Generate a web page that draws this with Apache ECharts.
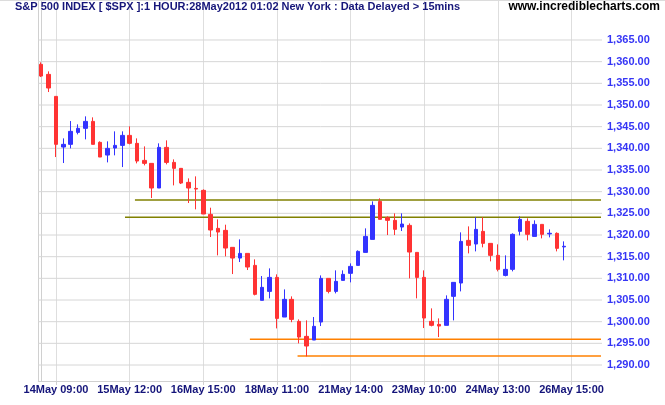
<!DOCTYPE html>
<html>
<head>
<meta charset="utf-8">
<script src="https://cdn.jsdelivr.net/npm/echarts@6/dist/echarts.min.js"></script>
<style>
  html, body { margin: 0; padding: 0; background: #fff; }
  #wrap { position: relative; width: 665px; height: 405px; }
  #chart { width: 665px; height: 405px; }
  #topline { position: absolute; left: 0; top: 0; width: 665px; height: 1px; background: #dcdcdc; }
</style>
</head>
<body>
<div id="wrap"><div id="chart"></div><div id="topline"></div></div>
<script>
// ---- data (hourly candles, index = bar number) ----
const opens  = [1359.38,1357.07,1351.99,1340.30,1340.92,1343.68,1344.61,1346.22,1341.38,1338.45,
                1340.07,1340.68,1342.99,1341.15,1337.22,1336.53,1330.84,1340.22,1336.76,1335.38,
                1332.15,1330.75,1330.30,1324.76,1321.53,1321.07,1317.15,1314.68,1315.76,1312.99,
                1304.92,1306.99,1310.22,1301.07,1305.15,1300.07,1296.61,1295.76,1299.92,1309.99,
                1306.99,1309.53,1311.15,1312.99,1315.99,1318.99,1327.76,1323.99,1323.38,1321.84,
                1322.22,1315.99,1310.22,1300.07,1299.38,1299.15,1305.84,1308.92,1318.76,1317.92,
                1320.84,1318.07,1315.30,1310.68,1312.07,1320.84,1323.15,1319.68,1322.45,1320.25,
                1320.38,1317.25];
const closes = [1356.68,1353.92,1340.92,1340.92,1343.92,1344.61,1346.22,1340.92,1337.99,1339.99,
                1340.68,1342.99,1341.15,1337.07,1336.53,1330.84,1340.22,1336.76,1335.38,1331.99,
                1330.84,1330.60,1324.84,1321.15,1320.68,1316.99,1314.68,1315.76,1312.61,1306.30,
                1307.92,1310.22,1300.76,1305.15,1300.53,1296.45,1294.38,1298.92,1309.99,1306.99,
                1309.30,1310.92,1312.76,1316.22,1319.68,1326.84,1323.61,1323.38,1321.30,1322.53,
                1316.07,1310.22,1300.84,1299.15,1298.99,1305.15,1309.07,1318.53,1317.61,1321.30,
                1318.07,1315.30,1312.07,1312.07,1320.15,1323.61,1320.15,1322.45,1320.15,1320.40,
                1316.92,1317.40];
const lows   = [1356.45,1352.99,1337.99,1336.61,1339.99,1343.22,1342.07,1340.92,1337.99,1336.76,
                1338.38,1335.68,1340.92,1336.53,1336.07,1328.53,1330.84,1336.30,1331.45,1331.76,
                1327.38,1325.92,1324.84,1319.53,1315.30,1315.07,1310.99,1313.76,1311.92,1306.07,
                1304.92,1305.38,1298.45,1301.07,1299.88,1294.99,1291.99,1295.76,1298.99,1306.53,
                1306.53,1309.53,1309.07,1312.99,1315.99,1318.99,1323.61,1319.99,1319.99,1320.92,
                1309.99,1305.38,1298.53,1298.92,1296.45,1299.15,1300.30,1306.99,1315.76,1316.22,
                1317.15,1313.92,1311.61,1310.45,1311.61,1319.92,1318.76,1319.68,1319.22,1319.45,
                1316.22,1314.15];
const highs  = [1359.84,1357.76,1351.99,1342.30,1346.30,1345.53,1347.38,1347.15,1341.61,1341.61,
                1343.92,1343.92,1345.07,1342.30,1340.45,1336.53,1341.15,1341.84,1337.45,1335.38,
                1333.07,1333.53,1330.53,1326.30,1323.61,1322.38,1317.15,1318.99,1315.76,1314.38,
                1310.53,1312.30,1310.92,1307.45,1305.84,1300.53,1300.30,1301.07,1310.68,1309.99,
                1311.84,1311.84,1313.45,1316.45,1321.53,1327.76,1328.45,1324.30,1324.99,1324.99,
                1322.68,1315.99,1311.84,1303.07,1300.76,1306.07,1309.07,1320.61,1321.99,1324.07,
                1324.07,1318.07,1317.84,1315.30,1320.38,1324.30,1323.84,1323.38,1322.45,1321.30,
                1320.61,1318.53];

// x-axis tick labels; first labelled bar and bars between labels
const tickLabels = ['14May 09:00','15May 12:00','16May 15:00','18May 11:00',
                    '21May 14:00','23May 10:00','24May 13:00','26May 15:00'];
const tickFirstBar = 2;
const tickStep = 10;

// y-axis tick values
const yTicks = [1290,1295,1300,1305,1310,1315,1320,1325,1330,1335,1340,1345,1350,1355,1360,1365];
const yTickStep = 5;

// horizontal trend lines: level, start bar
const trendLevels = [1328.08, 1324.09, 1295.93, 1292.08];
const trendStarts = [12.72, 11.37, 28.33, 34.8];
const trendColors = ['#808000', '#808000', '#ff8000', '#ff8000'];

// ---- layout helpers (pixel frame of the plot) ----
const W = 665, H = 405;
const PLOT_L = 38.3, PLOT_R = 601, PLOT_T = 0, PLOT_B = 381;
const X_MIN = -0.4, X_MAX = 76;
const Y_MIN = 1286.31, Y_MAX = 1374.23;
const pxPerBar = (PLOT_R - PLOT_L) / (X_MAX - X_MIN);
const pxPerPt = (PLOT_B - PLOT_T) / (Y_MAX - Y_MIN);
const yTickMin = yTicks[0], yTickMax = yTicks[yTicks.length - 1];
const tickLastBar = tickFirstBar + tickStep * (tickLabels.length - 1);
const xOf = b => PLOT_L + (b - X_MIN) * pxPerBar;
const yOf = v => PLOT_T + (Y_MAX - v) * pxPerPt;
const Y_TICK_LEN_PX = 5;

const FONT = 'Liberation Sans, Arial, sans-serif';
const GRIDC_V = '#dedede', GRIDC_H = '#d6d6d6', AXC = '#d0d0d0';

const candleData = opens.map((o, i) => [i, o, closes[i], lows[i], highs[i]]);

// trend lines (grid 1, same pixel scale as the main plot)
const trendSeries = trendLevels.map((lv, k) => ({
  type: 'line',
  xAxisIndex: 1, yAxisIndex: 2,
  data: [[trendStarts[k], lv], [X_MAX, lv]],
  symbol: 'none',
  silent: true,
  z: 4,
  lineStyle: { color: trendColors[k], width: 1.5 },
  animation: false
}));

// horizontal price grid lines at each tick value, running a few px past the plot as the tick mark
const gridSeries = yTicks.map(v => ({
  type: 'line',
  xAxisIndex: 1, yAxisIndex: 2,
  data: [[X_MIN, v], [X_MAX + Y_TICK_LEN_PX / pxPerBar, v]],
  symbol: 'none',
  silent: true,
  clip: false,
  z: 1,
  lineStyle: { color: GRIDC_H, width: 1 },
  animation: false
}));

const chart = echarts.init(document.getElementById('chart'), null, { renderer: 'canvas' });
chart.setOption({
  animation: false,
  backgroundColor: '#ffffff',
  title: [
    {
      text: 'S&P 500 INDEX [ $SPX ]:1 HOUR:28May2012 01:02 New York : Data Delayed > 15mins',
      left: 15, top: 1, padding: 0,
      textStyle: { fontFamily: FONT, fontSize: 11, fontWeight: 'bold', color: '#16167a' }
    },
    {
      text: 'www.incrediblecharts.com',
      right: 5, top: 1, padding: 0,
      textStyle: { fontFamily: FONT, fontSize: 12, fontWeight: 'bold', color: '#000000' }
    }
  ],
  grid: [
    // 0: main plot (candles, frame)
    { left: PLOT_L, right: W - PLOT_R, top: PLOT_T, bottom: H - PLOT_B },
    // 1: price labels, price grid lines, trend lines
    { left: PLOT_L, right: W - PLOT_R, top: yOf(yTickMax), bottom: H - yOf(yTickMin) },
    // 2: vertical grid lines + date labels
    { left: xOf(tickFirstBar), right: W - xOf(tickLastBar), top: PLOT_T, bottom: H - PLOT_B }
  ],
  xAxis: [
    {
      gridIndex: 0, type: 'value', min: X_MIN, max: X_MAX,
      axisLine: { show: true, onZero: false, lineStyle: { color: AXC, width: 1 } },
      axisTick: { show: false }, splitLine: { show: false }, axisLabel: { show: false }
    },
    {
      gridIndex: 1, type: 'value', min: X_MIN, max: X_MAX,
      axisLine: { show: false }, axisTick: { show: false }, splitLine: { show: false }, axisLabel: { show: false }
    },
    {
      gridIndex: 2, type: 'value', min: tickFirstBar, max: tickLastBar, interval: tickStep,
      axisLine: { show: false, onZero: false },
      axisTick: { show: true, length: 4, lineStyle: { color: AXC } },
      splitLine: { show: true, lineStyle: { color: GRIDC_V, width: 1 } },
      axisLabel: {
        margin: 3, fontFamily: FONT, fontSize: 11, fontWeight: 'bold', color: '#14147a',
        formatter: v => tickLabels[Math.round((v - tickFirstBar) / tickStep)] || ''
      }
    }
  ],
  yAxis: [
    {
      gridIndex: 0, type: 'value', position: 'right', min: Y_MIN, max: Y_MAX,
      axisLine: { show: true, lineStyle: { color: AXC, width: 1 } },
      axisTick: { show: false }, splitLine: { show: false }, axisLabel: { show: false }
    },
    {
      gridIndex: 0, type: 'value', position: 'left', min: Y_MIN, max: Y_MAX,
      axisLine: { show: true, lineStyle: { color: AXC, width: 1 } },
      axisTick: { show: false }, splitLine: { show: false }, axisLabel: { show: false }
    },
    {
      gridIndex: 1, type: 'value', position: 'right', min: yTickMin, max: yTickMax, interval: yTickStep,
      axisLine: { show: false },
      axisTick: { show: false },
      splitLine: { show: false },
      axisLabel: {
        margin: 6, fontFamily: FONT, fontSize: 11, fontWeight: 'bold', color: '#3535f5',
        formatter: v => v.toLocaleString('en-US', { minimumFractionDigits: 2, maximumFractionDigits: 2 })
      }
    },
    {
      gridIndex: 2, type: 'value', min: Y_MIN, max: Y_MAX,
      axisLine: { show: false }, axisTick: { show: false }, splitLine: { show: false }, axisLabel: { show: false }
    }
  ],
  series: [
    {
      type: 'candlestick',
      xAxisIndex: 0, yAxisIndex: 0,
      data: candleData,
      encode: { x: 0, y: [1, 2, 3, 4] },
      barWidth: 4,
      z: 5,
      itemStyle: {
        color: '#3333ff', color0: '#ff3333',
        borderColor: '#3333ff', borderColor0: '#ff3333',
        borderWidth: 1
      }
    }
  ].concat(gridSeries, trendSeries)
});
</script>
</body>
</html>
